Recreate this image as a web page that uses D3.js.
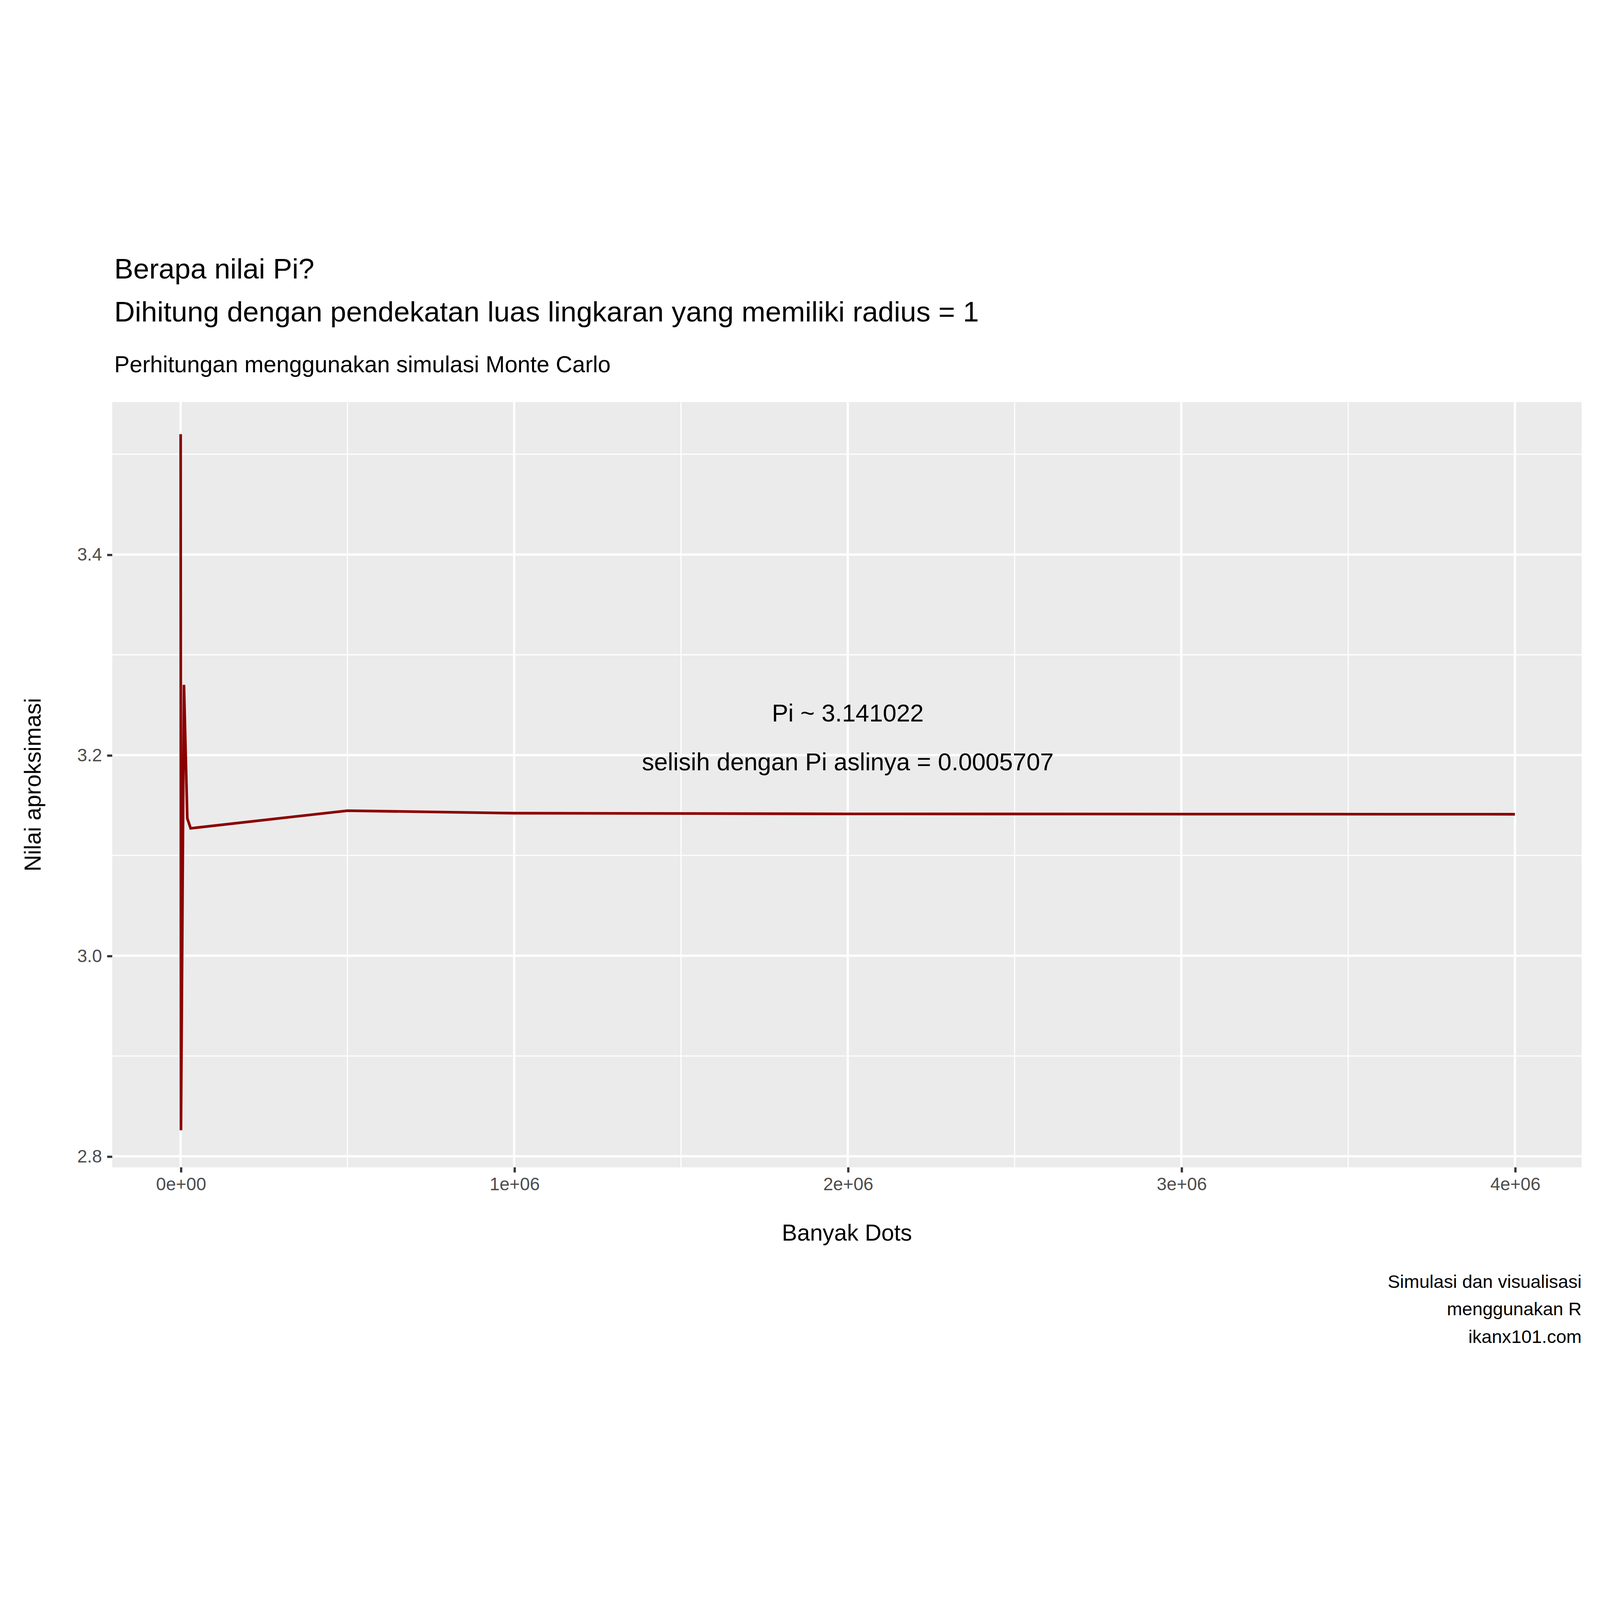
<html>
<head>
<script src="https://d3js.org/d3.v7.min.js"></script>
<style>html,body{margin:0;padding:0;background:#fff;overflow:hidden}svg{display:block;width:100vw;height:100vh}text{font-family:"Liberation Sans",Arial,sans-serif}</style>
</head>
<body>
<script>
// data
var nDots = [100, 1000, 10000, 20000, 30000, 500000, 1000000, 2000000, 3000000, 4000000];
var piEst = [3.52, 2.826, 3.27, 3.137, 3.127, 3.1446, 3.1421, 3.1414, 3.1412, 3.141022];
var xTicks = [0, 1e6, 2e6, 3e6, 4e6];
var xTickLabels = ["0e+00", "1e+06", "2e+06", "3e+06", "4e+06"];
var yTicks = [2.8, 3.0, 3.2, 3.4];
var yTickLabels = ["2.8", "3.0", "3.2", "3.4"];

var W = 1568, H = 1120;
var L = 110, R = 1550, T = 170, B = 920;
var svg = d3.select("body").append("svg")
  .attr("viewBox", "0 0 " + W + " " + H)
  .attr("preserveAspectRatio", "xMidYMid meet");

var x = d3.scaleLinear().domain([-0.205e6, 4.2e6]).range([L, R]);
var y = d3.scaleLinear().domain([2.789, 3.552]).range([B, T]);

svg.append("rect").attr("x", L).attr("y", T).attr("width", R - L).attr("height", B - T).attr("fill", "#ebebeb");

var g = svg.append("g");
d3.range(0.5e6, 4.1e6, 1e6).forEach(function (v) {
  g.append("line").attr("x1", x(v)).attr("x2", x(v)).attr("y1", T).attr("y2", B).attr("stroke", "#fff").attr("stroke-width", 1.1);
});
[2.9, 3.1, 3.3, 3.5].forEach(function (v) {
  g.append("line").attr("x1", L).attr("x2", R).attr("y1", y(v)).attr("y2", y(v)).attr("stroke", "#fff").attr("stroke-width", 1.1);
});
xTicks.forEach(function (v) {
  g.append("line").attr("x1", x(v)).attr("x2", x(v)).attr("y1", T).attr("y2", B).attr("stroke", "#fff").attr("stroke-width", 2.2);
});
yTicks.forEach(function (v) {
  g.append("line").attr("x1", L).attr("x2", R).attr("y1", y(v)).attr("y2", y(v)).attr("stroke", "#fff").attr("stroke-width", 2.2);
});

var xAxis = svg.append("g").attr("transform", "translate(0," + B + ")")
  .call(d3.axisBottom(x).tickValues(xTicks).tickFormat(function (d, i) { return xTickLabels[i]; }).tickSize(5).tickPadding(5));
var yAxis = svg.append("g").attr("transform", "translate(" + L + ",0)")
  .call(d3.axisLeft(y).tickValues(yTicks).tickFormat(function (d, i) { return yTickLabels[i]; }).tickSize(5).tickPadding(5));
[xAxis, yAxis].forEach(function (a) {
  a.select(".domain").remove();
  a.selectAll("line").attr("stroke", "#333").attr("stroke-width", 2.2);
  a.selectAll("text").attr("fill", "#4d4d4d").style("font-size", "17.5px");
});

svg.append("path")
  .datum(nDots.map(function (d, i) { return [d, piEst[i]]; }))
  .attr("fill", "none").attr("stroke", "#8b0000").attr("stroke-width", 2.6)
  .attr("d", d3.line().x(function (d) { return x(d[0]); }).y(function (d) { return y(d[1]); }));

svg.append("text").attr("x", x(2e6)).attr("y", 483).attr("text-anchor", "middle").style("font-size", "24px").text("Pi ~ 3.141022");
svg.append("text").attr("x", x(2e6)).attr("y", 531).attr("text-anchor", "middle").style("font-size", "24px").text("selisih dengan Pi aslinya = 0.0005707");

svg.append("text").attr("x", 112).attr("y", 49).style("font-size", "28px").text("Berapa nilai Pi?");
svg.append("text").attr("x", 112).attr("y", 91).style("font-size", "28px").text("Dihitung dengan pendekatan luas lingkaran yang memiliki radius = 1");
svg.append("text").attr("x", 112).attr("y", 141).style("font-size", "22.5px").text("Perhitungan menggunakan simulasi Monte Carlo");

svg.append("text").attr("x", (L + R) / 2).attr("y", 992).attr("text-anchor", "middle").style("font-size", "22.5px").text("Banyak Dots");
svg.append("text").attr("transform", "translate(40," + ((T + B) / 2) + ") rotate(-90)").attr("text-anchor", "middle").style("font-size", "22.5px").text("Nilai aproksimasi");

["Simulasi dan visualisasi", "menggunakan R", "ikanx101.com"].forEach(function (t, i) {
  svg.append("text").attr("x", R).attr("y", 1038 + i * 27).attr("text-anchor", "end").style("font-size", "18px").text(t);
});
</script>
</body>
</html>
